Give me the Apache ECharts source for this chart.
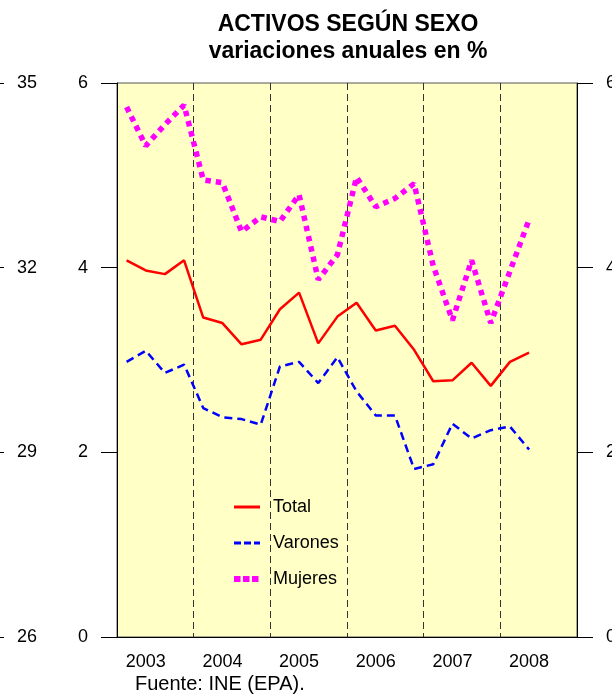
<!DOCTYPE html>
<html>
<head>
<meta charset="utf-8">
<script src="https://cdn.jsdelivr.net/npm/echarts@6/dist/echarts.min.js"></script>
<style>
  html, body { margin: 0; padding: 0; background: #fff; }
  #chart { width: 612px; height: 696px; }
</style>
</head>
<body>
<div id="chart"></div>
<script>
// trimestres 2003T1 .. 2008T4 (24 huecos, datos hasta 2008T2)
var years = ['2003', '2004', '2005', '2006', '2007', '2008'];
var quarters = [];
years.forEach(function (y) {
  for (var q = 1; q <= 4; q++) quarters.push(y + 'T' + q);
});

var total = [4.08, 3.97, 3.93, 4.08, 3.46, 3.40, 3.17, 3.22, 3.55, 3.73, 3.18, 3.47,
             3.62, 3.32, 3.37, 3.11, 2.77, 2.78, 2.97, 2.72, 2.98, 3.08];
var varones = [2.98, 3.10, 2.86, 2.95, 2.48, 2.38, 2.36, 2.30, 2.93, 2.98, 2.75, 3.03,
               2.66, 2.40, 2.40, 1.82, 1.87, 2.31, 2.15, 2.24, 2.28, 2.03];
var mujeres = [5.74, 5.32, 5.55, 5.76, 4.95, 4.92, 4.39, 4.55, 4.50, 4.79, 3.87, 4.14,
               4.98, 4.66, 4.75, 4.91, 4.02, 3.43, 4.08, 3.40, 3.96, 4.52];

var mainTicks = { min: 0, max: 6, interval: 2 };
var extraTicks = { min: 26, max: 35, interval: 3 };

var font = 'Liberation Sans, Arial, sans-serif';
var chart = echarts.init(document.getElementById('chart'));

var yCommon = {
  type: 'value',
  axisLine: { show: true, lineStyle: { color: '#000', width: 1 } },
  axisTick: { show: true, inside: false, length: 16, lineStyle: { color: '#000' } },
  splitLine: { show: false },
  axisLabel: { color: '#000', fontSize: 18, fontFamily: font, margin: 29 }
};

chart.setOption({
  animation: false,
  backgroundColor: '#fff',
  title: {
    text: 'ACTIVOS SEGÚN SEXO\nvariaciones anuales en %',
    left: 343,
    top: 6,
    textAlign: 'center',
    textStyle: { fontSize: 23, fontWeight: 'bold', fontFamily: font, color: '#000', lineHeight: 27 }
  },
  grid: {
    left: 117, right: 35, top: 83, bottom: 59,
    outerBoundsMode: 'none',
    containLabel: false,
    show: true,
    backgroundColor: '#FFFFC6',
    borderColor: '#555',
    borderWidth: 1
  },
  legend: {
    orient: 'vertical',
    left: 226,
    top: 493,
    itemWidth: 26,
    itemHeight: 14,
    itemGap: 18,
    itemStyle: { opacity: 0 },
    textStyle: { fontSize: 18, fontFamily: font, color: '#000', padding: [0, 0, 0, 8] },
    data: [
      { name: 'Total', lineStyle: { color: '#FF0000', width: 3 } },
      { name: 'Varones', lineStyle: { color: '#0000FF', width: 3, type: [7, 3] } },
      { name: 'Mujeres', lineStyle: { color: '#FF00FF', width: 6, type: [6.5, 2.5] } }
    ]
  },
  xAxis: {
    type: 'category',
    data: quarters,
    boundaryGap: true,
    axisLine: { show: true, lineStyle: { color: '#000' } },
    axisTick: { show: false },
    axisLabel: {
      color: '#000', fontSize: 18, fontFamily: font, margin: 16,
      interval: function (i) { return i % 4 === 1; },
      formatter: function (v) { return v.slice(0, 4); }
    },
    splitLine: {
      show: true,
      interval: function (i) { return i % 4 === 0 && i > 0; },
      lineStyle: { color: '#333', type: [7, 4], width: 1 }
    }
  },
  yAxis: [
    Object.assign({}, yCommon, mainTicks, { position: 'left' }),
    Object.assign({}, yCommon, mainTicks, { position: 'right' }),
    Object.assign({}, yCommon, extraTicks, {
      position: 'right', offset: -589,
      axisLine: { show: false }
    })
  ],
  series: [
    {
      name: 'Total', type: 'line', data: total, symbol: 'none',
      lineStyle: { color: '#FF0000', width: 2.5 }, itemStyle: { color: '#FF0000' }
    },
    {
      name: 'Varones', type: 'line', data: varones, symbol: 'none',
      lineStyle: { color: '#0000FF', width: 2.5, type: [8, 5] }, itemStyle: { color: '#0000FF' }
    },
    {
      name: 'Mujeres', type: 'line', data: mujeres, symbol: 'none',
      lineStyle: { color: '#FF00FF', width: 5.5, type: [5.5, 5] }, itemStyle: { color: '#FF00FF' }
    }
  ],
  graphic: [{
    type: 'text', left: 135, top: 674,
    style: { text: 'Fuente: INE (EPA).', fontSize: 20, fontFamily: font, fill: '#000' }
  }]
});
</script>
</body>
</html>
